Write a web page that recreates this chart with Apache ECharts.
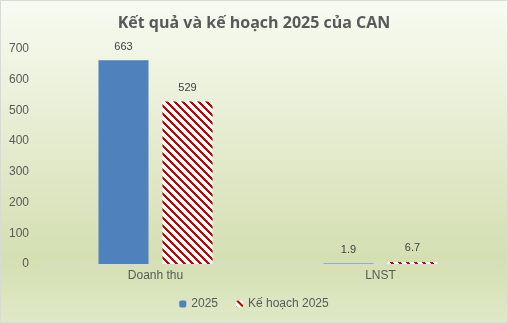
<!DOCTYPE html>
<html><head><meta charset="utf-8">
<script src="https://cdn.jsdelivr.net/npm/echarts@6/dist/echarts.min.js"></script>
<style>html,body{margin:0;padding:0;background:#fff}#c{width:508px;height:323px}</style>
</head><body><div id="c"></div>
<script>
const categories = ['Doanh thu', 'LNST'];
const seriesNames = ['2025', 'Kế hoạch 2025'];
const actual2025 = [663, 1.9];
const plan2025 = [529, 6.7];
const titleText = 'Kết quả và kế hoạch 2025 của CAN';

function stripePattern() {
  const c = document.createElement('canvas');
  c.width = 8; c.height = 8;
  const ctx = c.getContext('2d');
  ctx.fillStyle = '#ffffff';
  ctx.fillRect(0, 0, 8, 8);
  ctx.fillStyle = '#c00000';
  for (let y = 0; y < 8; y++) for (let x = 0; x < 8; x++) {
    if (((x - y) % 8 + 8) % 8 < 3) ctx.fillRect(x, y, 1, 1);
  }
  return c;
}

const chart = echarts.init(document.getElementById('c'), null, {renderer: 'canvas'});
const lbl = {show: true, position: 'top', distance: 8, color: '#404040', fontSize: 11, fontFamily: 'Liberation Sans'};
chart.setOption({
  backgroundColor: {type: 'linear', x: 0, y: 0, x2: 0, y2: 1, colorStops: [
    {offset: 0, color: '#f8fbf2'}, {offset: 0.8, color: '#d4dfb2'}, {offset: 1, color: '#e0e9c7'}]},
  animation: false,
  title: {text: titleText, left: 'center', top: 10,
    textStyle: {fontFamily: 'Open Sans', fontWeight: 'bold', fontSize: 16, color: '#595959'}},
  graphic: [{type: 'rect', shape: {x: 0.5, y: 0.5, width: 507, height: 322}, style: {fill: 'none', stroke: '#d9d9d9', lineWidth: 1}, silent: true}],
  legend: {bottom: 8, left: 'center', itemWidth: 7, itemHeight: 7, itemGap: 18,
    textStyle: {color: '#595959', fontSize: 12, fontFamily: 'Liberation Sans'}, data: seriesNames},
  grid: {left: 43, right: 15, top: 49, bottom: 59},
  xAxis: {type: 'category', data: categories,
    axisLine: {lineStyle: {color: '#d9d9d9', width: 1}}, axisTick: {show: false},
    axisLabel: {color: '#595959', fontSize: 12, fontFamily: 'Liberation Sans', margin: 6}},
  yAxis: {type: 'value', min: 0, max: 700, interval: 100, splitLine: {show: false},
    axisLine: {show: false}, axisTick: {show: false},
    axisLabel: {color: '#595959', fontSize: 12, fontFamily: 'Liberation Sans', margin: 14}},
  series: [
    {name: seriesNames[0], type: 'bar', data: actual2025, barWidth: 50, barGap: '28%',
      itemStyle: {color: '#4f81bd'}, label: lbl},
    {name: seriesNames[1], type: 'bar', data: plan2025, barWidth: 50,
      itemStyle: {color: {image: stripePattern(), repeat: 'repeat'}}, label: lbl}
  ]
});
</script></body></html>
